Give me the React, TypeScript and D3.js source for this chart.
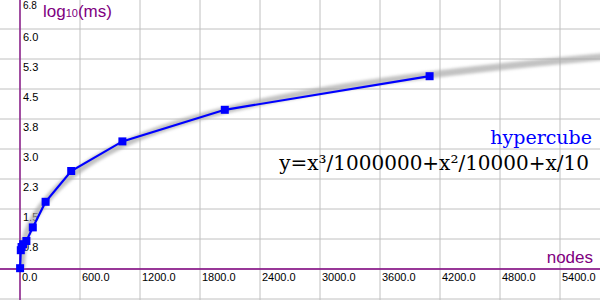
import * as d3 from "d3";

// measured run times, hypercube
const nodes = [1, 8, 16, 32, 64, 128, 256, 512, 1024, 2048, 4096];
const logMs = [0.02, 0.47, 0.55, 0.62, 0.7, 1.04, 1.68, 2.45, 3.19, 3.98, 4.82];

const xTicks = [0, 600, 1200, 1800, 2400, 3000, 3600, 4200, 4800, 5400];
const yTicks = [0, 0.75, 1.5, 2.25, 3, 3.75, 4.5, 5.25, 6, 6.75];

const seriesName = "hypercube";
const fitLabel = "y=x³/1000000+x²/10000+x/10";

const fit = (n: number) => Math.log10((n * n * n) / 1000000 + (n * n) / 10000 + n / 10);

export default function App() {
  const width = 600;
  const height = 300;
  const purple = "#800080";
  const grid = "#c0c0c0";

  const x = d3.scaleLinear([0, 600], [20, 80]);
  const y = d3.scaleLinear([0, 0.75], [269, 239]);

  const vGrid = d3.range(-1, 10).map((k) => k * 600).filter((v) => x(v) >= 0 && x(v) <= width);
  const hGrid = d3.range(-1, 10).map((k) => k * 0.75);

  const fitPts = d3.range(10, 6200, 20);
  const fitLine = d3
    .line<number>()
    .x((d) => x(d))
    .y((d) => y(fit(d)))
    .curve(d3.curveMonotoneX);

  const dataLine = d3
    .line<number>()
    .x((d, i) => x(nodes[i]))
    .y((d) => y(d));

  const fmt = d3.format(".1f");

  return (
    <svg width={width} height={height} style={{ position: "absolute", left: 0, top: 0, background: "#fff" }}>
      <defs>
        <filter id="soft" x="-10%" y="-10%" width="120%" height="120%">
          <feGaussianBlur stdDeviation="1.4" />
        </filter>
        <clipPath id="plot">
          <rect x={x(0)} y={0} width={width} height={y(0)} />
        </clipPath>
      </defs>
      <rect width={width} height={height} fill="#fff" />
      {vGrid.map((v) => (
        <line key={"v" + v} x1={x(v)} x2={x(v)} y1={0} y2={height} stroke={grid} strokeWidth={1} />
      ))}
      {hGrid.map((v) => (
        <line key={"h" + v} x1={0} x2={width} y1={y(v)} y2={y(v)} stroke={grid} strokeWidth={1} />
      ))}
      <line x1={x(0)} x2={x(0)} y1={0} y2={height} stroke={purple} strokeWidth={1.3} />
      <line x1={0} x2={width} y1={y(0)} y2={y(0)} stroke={purple} strokeWidth={1.3} />

      <g fontFamily="'Liberation Sans', Arial, sans-serif" fontSize={11} fill="#000">
        {xTicks.map((v) => (
          <text key={"xt" + v} x={x(v) + 2} y={y(0) + 12}>
            {fmt(v)}
          </text>
        ))}
        {yTicks
          .filter((v) => v > 0)
          .map((v, i, arr) => (
            <text
              key={"yt" + v}
              x={x(0) + 3}
              y={i === arr.length - 1 ? y(v) + 10 : y(v) + 11.5}
              fontSize={i === arr.length - 1 ? 10 : 11}
            >
              {fmt(v)}
            </text>
          ))}
      </g>

      <path
        d={fitLine(fitPts) ?? ""}
        fill="none"
        stroke="#a8a8a8"
        strokeOpacity={0.7}
        strokeWidth={7}
        filter="url(#soft)"
        clipPath="url(#plot)"
      />

      <path d={dataLine(logMs) ?? ""} fill="none" stroke="#0000ff" strokeWidth={2.2} />
      {logMs.map((v, i) => (
        <rect key={"p" + i} x={x(nodes[i]) - 4} y={y(v) - 4} width={8} height={8} fill="#0000ff" />
      ))}

      <text x={43} y={17} fontFamily="'Liberation Sans', Arial, sans-serif" fontSize={17} fill={purple}>
        log<tspan fontSize={11}>10</tspan>(ms)
      </text>
      <text
        x={593}
        y={263}
        textAnchor="end"
        fontFamily="'Liberation Sans', Arial, sans-serif"
        fontSize={17}
        fill={purple}
      >
        nodes
      </text>

      <text x={592} y={144} textAnchor="end" fontFamily="'DejaVu Serif', serif" fontSize={19} fill="#0000ff">
        {seriesName}
      </text>
      <text x={589} y={170} textAnchor="end" fontFamily="'DejaVu Serif', serif" fontSize={20} fill="#000">
        {fitLabel}
      </text>
    </svg>
  );
}
